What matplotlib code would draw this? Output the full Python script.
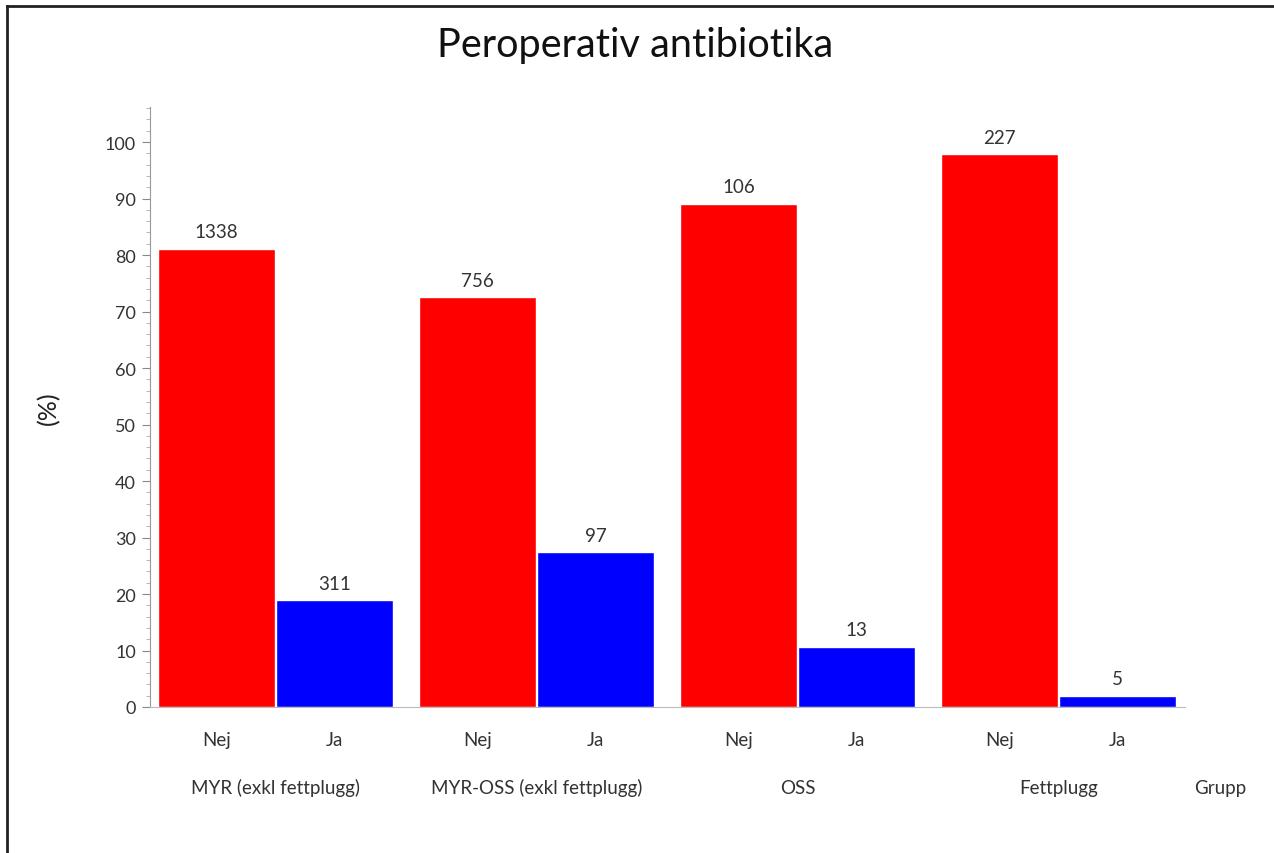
import matplotlib
matplotlib.use('Agg')
import matplotlib.pyplot as plt
from matplotlib.ticker import MultipleLocator
from matplotlib.lines import Line2D
import numpy as np

plt.rcParams['font.family'] = ['Lato', 'DejaVu Sans']

groups = ['MYR (exkl fettplugg)', 'MYR-OSS (exkl fettplugg)', 'OSS', 'Fettplugg']
answers = ['Nej', 'Ja']
nej_pct = [81.1, 72.5, 89.1, 97.8]
ja_pct = [18.9, 27.4, 10.7, 2.0]
nej_n = [1338, 756, 106, 227]
ja_n = [311, 97, 13, 5]

fig = plt.figure(figsize=(12.74, 8.54), dpi=100)
ax = fig.add_axes([150 / 1274, 146 / 854, 1035 / 1274, 600 / 854])

x = np.arange(len(groups))
w = 0.448
off = 0.226
b1 = ax.bar(x - off, nej_pct, w, color='#ff0000', edgecolor='white', linewidth=1)
b2 = ax.bar(x + off, ja_pct, w, color='#0000ff', edgecolor='white', linewidth=1)

for bars, counts in ((b1, nej_n), (b2, ja_n)):
    for bar, n in zip(bars, counts):
        ax.annotate(str(n), (bar.get_x() + bar.get_width() / 2, bar.get_height()),
                    xytext=(0, 6), textcoords='offset points',
                    ha='center', va='bottom', fontsize=13.5, color='#333333')

ax.set_xlim(-0.481, 3.485)
ax.set_ylim(0, 106.2)
ax.set_yticks(np.arange(0, 101, 10))
ax.yaxis.set_minor_locator(MultipleLocator(2))
ax.tick_params(axis='y', which='major', length=6, color='#888888', labelsize=13,
               labelcolor='#333333', pad=4)
ax.tick_params(axis='y', which='minor', length=3, color='#aaaaaa')
ax.set_xticks([])

for s in ('top', 'right'):
    ax.spines[s].set_visible(False)
ax.spines['left'].set_color('#999999')
ax.spines['bottom'].set_color('#bbbbbb')

# answer labels and group labels under the bars
for i in range(len(groups)):
    for k, a in enumerate(answers):
        ax.text(i + (2 * k - 1) * off, -5.8, a, ha='center', va='center',
                fontsize=13.5, color='#333333')
    ax.text(i, -14.2, groups[i], ha='center', va='center', fontsize=13.5, color='#333333')
ax.text(3.62, -14.2, 'Grupp', ha='center', va='center', fontsize=13.5, color='#333333',
        clip_on=False)

ax.set_ylabel('(%)', fontsize=18, labelpad=32, color='#222222')
fig.text(635 / 1274, 1 - 46 / 854, 'Peroperativ antibiotika', ha='center', va='center',
         fontsize=28.5, color='#111111')

# frame on left and top of the picture
fig.add_artist(Line2D([7 / 1274, 7 / 1274], [0, 1 - 7 / 854], color='#222222', lw=2,
                      transform=fig.transFigure))
fig.add_artist(Line2D([7 / 1274, 1], [1 - 7 / 854, 1 - 7 / 854], color='#222222', lw=2,
                      transform=fig.transFigure))

fig.savefig('out.png', dpi=100)
